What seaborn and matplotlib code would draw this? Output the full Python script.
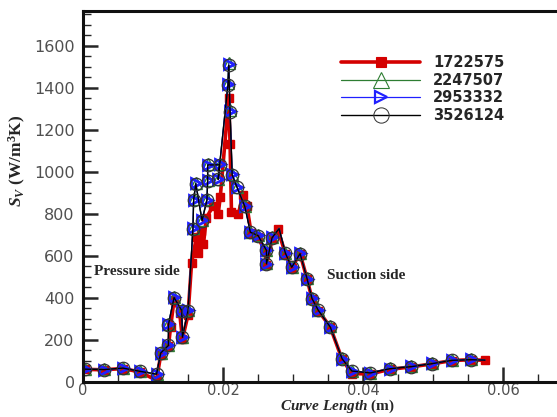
import matplotlib
matplotlib.use("Agg")
import matplotlib.pyplot as plt
from matplotlib.ticker import MultipleLocator
from matplotlib.lines import Line2D
import seaborn as sns
import pandas as pd

# --- datos ---
x_1722575 = [0.0003, 0.003, 0.0057, 0.0081, 0.0105, 0.0111, 0.0122, 0.0125, 0.013, 0.0138,
             0.0142, 0.015, 0.0155, 0.0162, 0.0164, 0.0168, 0.0172, 0.0176, 0.0186, 0.0193,
             0.0196, 0.0208, 0.021, 0.0212, 0.0222, 0.0228, 0.0234, 0.024, 0.025, 0.026,
             0.0262, 0.027, 0.0278, 0.0289, 0.0298, 0.031, 0.032, 0.0327, 0.0336, 0.0353,
             0.037, 0.0384, 0.041, 0.0438, 0.0469, 0.0498, 0.0527, 0.0554, 0.0574]
y_1722575 = [60, 58, 64, 48, 8, 130, 170, 260, 390, 330,
             205, 320, 565, 690, 615, 720, 655, 780, 840, 800,
             880, 1350, 1135, 810, 800, 890, 840, 710, 690, 620,
             555, 680, 730, 610, 545, 610, 490, 395, 340, 262,
             108, 40, 38, 60, 72, 86, 102, 106, 103]

x_fino = [0.0003, 0.003, 0.0057, 0.0081, 0.0105, 0.0111, 0.0122, 0.0122, 0.013, 0.0141,
          0.0142, 0.015, 0.0157, 0.0158, 0.0161, 0.017, 0.0177, 0.0178, 0.0178, 0.0195,
          0.0193, 0.0207, 0.0208, 0.021, 0.0213, 0.022, 0.0231, 0.0239, 0.025, 0.0262,
          0.0262, 0.027, 0.028, 0.0289, 0.0298, 0.031, 0.032, 0.0327, 0.0336, 0.0353,
          0.037, 0.0384, 0.041, 0.0438, 0.0469, 0.0498, 0.0527, 0.0554, 0.0574]
y_2247507 = [62, 60, 66, 52, 38, 140, 176, 276, 406, 343,
             216, 343, 735, 870, 949, 771, 870, 962, 1038, 1038,
             968, 1422, 1517, 1294, 990, 930, 840, 716, 700, 629,
             565, 690, 733, 616, 549, 614, 494, 400, 344, 265,
             112, 54, 44, 65, 75, 89, 105, 108, 105]
y_2953332 = [61, 59, 67, 51, 37, 139, 175, 274, 404, 341,
             214, 341, 732, 868, 946, 769, 868, 960, 1035, 1036,
             966, 1418, 1512, 1290, 988, 928, 838, 714, 698, 627,
             563, 688, 731, 614, 547, 612, 492, 398, 342, 263,
             111, 53, 43, 64, 74, 88, 104, 107, 104]
y_3526124 = [61, 59, 66, 51, 37, 138, 174, 273, 402, 340,
             213, 340, 730, 866, 944, 768, 866, 958, 1033, 1034,
             964, 1415, 1508, 1287, 986, 926, 836, 713, 697, 626,
             562, 687, 730, 613, 546, 611, 491, 397, 341, 262,
             110, 52, 43, 63, 73, 87, 103, 106, 104]

series = ["1722575", "2247507", "2953332", "3526124"]
# puntos sin simbolo (vertices de la curva)
con_marca = [i for i in range(len(x_fino)) if i not in (32, 48)]

df = pd.concat([
    pd.DataFrame({"x": x_1722575, "y": y_1722575, "malla": series[0]}),
    pd.DataFrame({"x": x_fino, "y": y_2247507, "malla": series[1]}),
    pd.DataFrame({"x": x_fino, "y": y_2953332, "malla": series[2]}),
    pd.DataFrame({"x": x_fino, "y": y_3526124, "malla": series[3]}),
], ignore_index=True)

sns.set_style("ticks")
plt.rcParams["font.family"] = ["DejaVu Sans"]
plt.rcParams["mathtext.fontset"] = "custom"
plt.rcParams["mathtext.it"] = "Liberation Serif:italic:bold"
plt.rcParams["mathtext.rm"] = "Liberation Serif:bold"
plt.rcParams["mathtext.bf"] = "Liberation Serif:bold"

estilos = {
    "1722575": dict(color="#d40000", lw=2.6, marker="s", ms=6, mfc="#d40000", mec="#d40000", mew=1),
    "2247507": dict(color="#2e7d32", lw=0.9, marker="^", ms=9, mfc="none", mec="#2e7d32", mew=1.0),
    "2953332": dict(color="#2020ff", lw=0.9, marker=">", ms=7, mfc="none", mec="#2020ff", mew=2.0),
    "3526124": dict(color="black", lw=1.0, marker="o", ms=9, mfc="none", mec="#333333", mew=0.9),
}

fig = plt.figure(figsize=(5.57, 4.17), dpi=100)
ax = fig.add_axes([0.149, 0.084, 0.855, 0.890])

for s in series:
    d = df[df["malla"] == s]
    st = estilos[s]
    me = None if s == series[0] else con_marca
    sns.lineplot(data=d, x="x", y="y", ax=ax, sort=False, estimator=None,
                 color=st["color"], linewidth=st["lw"], marker=st["marker"],
                 markersize=st["ms"], markerfacecolor=st["mfc"],
                 markeredgecolor=st["mec"], markeredgewidth=st["mew"],
                 markevery=me, legend=False)

ax.set_xlim(0, 0.068)
ax.set_ylim(0, 1767)
ax.xaxis.set_major_locator(MultipleLocator(0.02))
ax.xaxis.set_minor_locator(MultipleLocator(0.005))
ax.yaxis.set_major_locator(MultipleLocator(200))
ax.yaxis.set_minor_locator(MultipleLocator(50))
ax.set_xticks([0, 0.02, 0.04, 0.06])
ax.set_xticklabels(["0", "0.02", "0.04", "0.06"])
ax.tick_params(axis="both", which="major", direction="in", length=11, width=1.8,
               labelsize=11.5, labelcolor="#505050")
ax.tick_params(axis="x", which="major", pad=1, labelsize=10.5)
ax.tick_params(axis="y", which="major", pad=6)
ax.tick_params(axis="both", which="minor", direction="in", length=6, width=1.0)
ax.tick_params(top=False, right=False, which="both")

for lado in ["left", "bottom", "top"]:
    ax.spines[lado].set_linewidth(2.2)
    ax.spines[lado].set_color("#111111")
ax.spines["right"].set_visible(False)

ax.set_xlabel(r"$Curve\ Length$ (m)", fontfamily="Liberation Serif", fontweight="bold",
              fontsize=11, labelpad=0)
ax.set_ylabel(r"$S_V$ (W/m$^3$K)", fontfamily="Liberation Serif", fontweight="bold",
              fontsize=12.5, labelpad=2)
ax.xaxis.set_label_coords(0.534, -0.043)
ax.yaxis.set_label_coords(-0.115, 0.595)

ax.text(0.0016, 524, "Pressure side", fontfamily="Liberation Serif", fontweight="bold",
        fontsize=11, va="center")
ax.text(0.0349, 505, "Suction side", fontfamily="Liberation Serif", fontweight="bold",
        fontsize=11, va="center")

manejadores = [Line2D([], [], color=estilos[s]["color"], lw=estilos[s]["lw"],
                      marker=estilos[s]["marker"],
                      ms=7 if s == series[0] else estilos[s]["ms"] + 2,
                      mfc=estilos[s]["mfc"], mec=estilos[s]["mec"],
                      mew=estilos[s]["mew"] * 0.8) for s in series]
leg = fig.legend(manejadores, series, loc="upper left", bbox_to_anchor=(0.589, 0.899),
                 frameon=False, handlelength=5.4, labelspacing=0.18, handletextpad=0.9,
                 prop={"family": "DejaVu Sans", "weight": "bold", "size": 10.5})

fig.savefig("out.png", dpi=100)
